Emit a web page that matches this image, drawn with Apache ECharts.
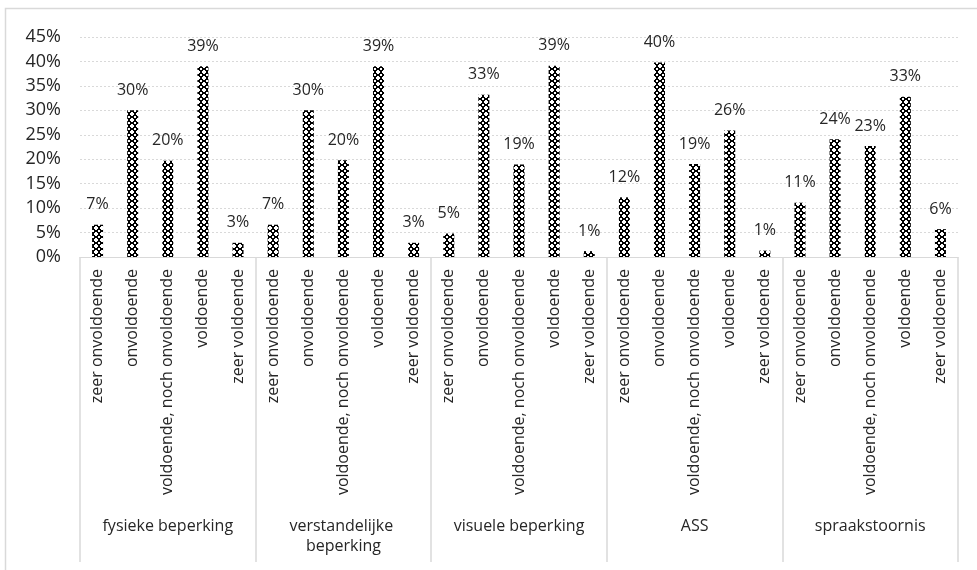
<!DOCTYPE html>
<html>
<head>
<meta charset="utf-8">
<script src="https://cdn.jsdelivr.net/npm/echarts@6/dist/echarts.min.js"></script>
<style>
html,body{margin:0;padding:0;background:#fff;}
#chart{width:977px;height:570px;}
</style>
</head>
<body>
<div id="chart"></div>
<script>
const groups = ['fysieke beperking', 'verstandelijke beperking', 'visuele beperking', 'ASS', 'spraakstoornis'];
const ratings = ['zeer onvoldoende', 'onvoldoende', 'voldoende, noch onvoldoende', 'voldoende', 'zeer voldoende'];
const fysiek = [6.6, 30.0, 19.7, 39.0, 2.9];
const verstandelijk = [6.6, 30.0, 19.8, 39.0, 2.9];
const visueel = [4.8, 33.2, 18.9, 39.1, 1.2];
const ass = [12.2, 39.8, 19.0, 25.9, 1.3];
const spraak = [11.1, 24.1, 22.7, 32.8, 5.7];
const yTicks = [0, 5, 10, 15, 20, 25, 30, 35, 40, 45];

const allValues = [].concat(fysiek, verstandelijk, visueel, ass, spraak);
const categories = [];
groups.forEach(function () { ratings.forEach(function (r) { categories.push(r); }); });

function makePattern() {
  const s = 6;
  const c = document.createElement('canvas');
  c.width = s; c.height = s;
  const ctx = c.getContext('2d');
  ctx.fillStyle = '#ffffff';
  ctx.fillRect(0, 0, s, s);
  ctx.fillStyle = '#000000';
  for (let y = 0; y < s; y++) {
    for (let x = 0; x < s; x++) {
      const d = Math.abs(x - 2.5) + Math.abs(y - 2.5);
      if (d >= 1.9 && d <= 3.1) ctx.fillRect(x, y, 1, 1);
    }
  }
  return c;
}

const font = '"Open Sans", sans-serif';
const textColor = '#262626';
const chart = echarts.init(document.getElementById('chart'), null, { renderer: 'canvas' });
chart.setOption({
  animation: false,
  backgroundColor: '#ffffff',
  textStyle: { fontFamily: font },
  graphic: [{
    type: 'rect',
    shape: { x: 5.5, y: 8.5, width: 1100, height: 700 },
    style: { fill: 'none', stroke: '#d9d9d9', lineWidth: 1.5 },
    silent: true,
    z: -10
  }],
  grid: { left: 80, right: 19, top: 37, bottom: 313, containLabel: false },
  xAxis: [{
    type: 'category',
    data: categories,
    axisLine: { show: false },
    axisTick: { show: false },
    axisLabel: {
      interval: 0, rotate: 90, margin: 12,
      fontFamily: font, fontSize: 16, color: textColor
    }
  }, {
    type: 'category',
    data: groups,
    position: 'bottom',
    axisLine: { show: true, lineStyle: { color: '#d9d9d9', width: 1 } },
    axisTick: { show: true, length: 305, lineStyle: { color: '#d9d9d9', width: 1.5 } },
    axisLabel: {
      interval: 0, margin: 259,
      fontFamily: font, fontSize: 16, color: textColor,
      width: 150, overflow: 'break', lineHeight: 20, align: 'center'
    }
  }],
  yAxis: {
    type: 'value',
    min: 0, max: 45, interval: 5,
    axisLine: { show: false },
    axisTick: { show: false },
    splitLine: { lineStyle: { color: '#d9d9d9', type: [2, 2], width: 1 } },
    axisLabel: {
      margin: 19, fontFamily: font, fontSize: 18, color: textColor,
      formatter: function (v) { return v + '%'; }
    }
  },
  series: [{
    type: 'bar',
    xAxisIndex: 0,
    data: allValues,
    barWidth: 11,
    itemStyle: { color: { image: makePattern(), repeat: 'repeat' } },
    label: {
      show: true, position: 'top', distance: 12,
      fontFamily: font, fontSize: 16, color: textColor,
      formatter: function (p) { return Math.round(p.value) + '%'; }
    }
  }]
});
</script>
</body>
</html>
